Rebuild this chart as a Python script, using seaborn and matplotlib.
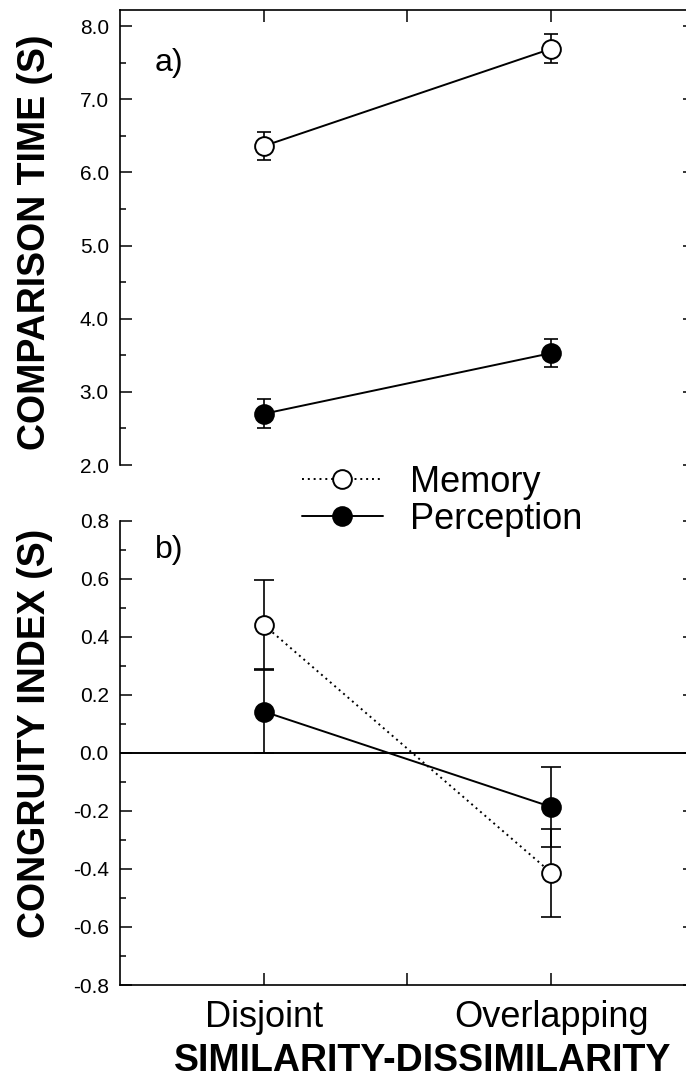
import numpy as np
import pandas as pd
import seaborn as sns
import matplotlib
matplotlib.use("Agg")
import matplotlib.pyplot as plt
from matplotlib.ticker import MultipleLocator, FormatStrFormatter

# Values
conditions = ["Disjoint", "Overlapping"]
series = ["Memory", "Perception"]

time_memory = [6.36, 7.69]
time_memory_se = [0.19, 0.20]
time_perception = [2.70, 3.53]
time_perception_se = [0.20, 0.19]

cong_memory = [0.442, -0.413]
cong_memory_se = [0.153, 0.152]
cong_perception = [0.143, -0.186]
cong_perception_se = [0.144, 0.137]

sns.set_theme(style="ticks")
plt.rcParams["font.family"] = ["Liberation Sans", "DejaVu Sans"]
for k in ["text.color", "axes.labelcolor", "xtick.color", "ytick.color", "axes.edgecolor"]:
    plt.rcParams[k] = "black"

xpos = np.arange(1, len(conditions) + 1)

def make_df(mem, per):
    return pd.DataFrame({
        "x": np.concatenate([xpos, xpos]),
        "y": mem + per,
        "group": ["Memory"] * len(mem) + ["Perception"] * len(per),
    })

top_df = make_df(time_memory, time_perception)
bot_df = make_df(cong_memory, cong_perception)

fig = plt.figure(figsize=(6.86, 10.86), dpi=100)
ax1 = fig.add_axes([0.1749, 0.5718, 0.8382, 0.419])
ax2 = fig.add_axes([0.1749, 0.0930, 0.8382, 0.4273])

face = {"Memory": "white", "Perception": "black"}

def draw(ax, df, errs, styles, capsize):
    for g in series:
        d = df[df["group"] == g]
        ax.errorbar(d["x"], d["y"], yerr=errs[g], fmt="none", ecolor="black",
                    elinewidth=1.2, capsize=capsize, capthick=1.2, zorder=2)
        sns.lineplot(data=d, x="x", y="y", ax=ax, color="black", lw=1.4,
                     linestyle=styles[g], marker="o", markersize=13.5,
                     markerfacecolor=face[g], markeredgecolor="black",
                     markeredgewidth=1.4, label=g, zorder=3, legend=False)

draw(ax1, top_df, {"Memory": time_memory_se, "Perception": time_perception_se},
     {"Memory": "-", "Perception": "-"}, 5)
draw(ax2, bot_df, {"Memory": cong_memory_se, "Perception": cong_perception_se},
     {"Memory": (0, (1, 2)), "Perception": "-"}, 7.5)

ax2.axhline(0, color="black", lw=1.4, zorder=1)

xticks = [xpos[0], xpos.mean(), xpos[-1]]
for ax in (ax1, ax2):
    ax.set_xlim(0.5, 2.5)
    ax.set_xticks(xticks)
    for s in ax.spines.values():
        s.set_linewidth(1.2)
    ax.tick_params(axis="y", which="both", direction="in", left=True, right=True,
                   labelsize=15, pad=8, width=1.1)
    ax.tick_params(axis="y", which="major", length=8.5)
    ax.tick_params(axis="y", which="minor", length=4)
    ax.set_xlabel("")

# top panel
ax1.set_ylim(2.0, 8.22)
ax1.yaxis.set_major_locator(MultipleLocator(1.0))
ax1.yaxis.set_minor_locator(MultipleLocator(0.5))
ax1.yaxis.set_major_formatter(FormatStrFormatter("%.1f"))
ax1.spines["bottom"].set_visible(False)
ax1.tick_params(axis="x", direction="in", top=True, bottom=False, labeltop=False,
                labelbottom=False, length=8.5, width=1.1)
ax1.set_ylabel("COMPARISON TIME (S)", fontsize=27, fontweight="bold", va="center")
ax1.yaxis.set_label_coords(-0.148, 0.49)
ax1.text(0.061, 0.884, "a)", transform=ax1.transAxes, fontsize=23, va="center", ha="left")

# bottom panel
ax2.set_ylim(-0.8, 0.8)
ax2.yaxis.set_major_locator(MultipleLocator(0.2))
ax2.yaxis.set_minor_locator(MultipleLocator(0.1))
ax2.yaxis.set_major_formatter(FormatStrFormatter("%.1f"))
ax2.spines["top"].set_visible(False)
ax2.set_xticklabels([conditions[0], "", conditions[1]])
ax2.tick_params(axis="x", direction="in", top=False, bottom=True, labelsize=26,
                pad=11, length=8.5, width=1.1)
ax2.set_ylabel("CONGRUITY INDEX (S)", fontsize=27, fontweight="bold", va="center")
ax2.yaxis.set_label_coords(-0.148, 0.543)
ax2.set_xlabel("SIMILARITY-DISSIMILARITY", fontsize=27, fontweight="bold")
ax2.xaxis.set_label_coords(0.527, -0.125)
ax2.text(0.061, 0.9375, "b)", transform=ax2.transAxes, fontsize=23, va="center", ha="left")

handles, labels = ax2.get_legend_handles_labels()
fig.legend(handles, labels, loc="center left", bbox_to_anchor=(302 / 686, 1 - 501 / 1086),
           frameon=False, fontsize=26, handlelength=2.24, handletextpad=0.75,
           labelspacing=0.05, borderpad=0, borderaxespad=0)

fig.savefig("out.png", dpi=100)
